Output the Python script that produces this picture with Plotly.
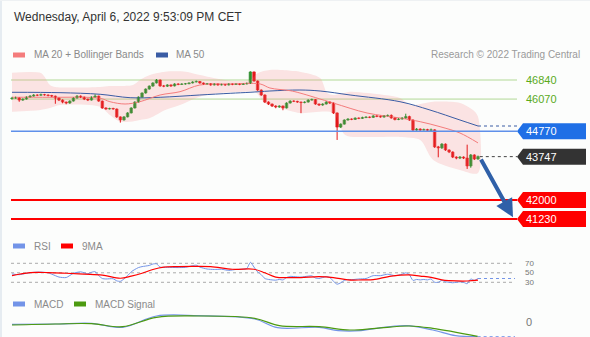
import plotly.graph_objects as go

W, H = 590, 337

# ---------------- hourly BTC candles (open = previous close) ----------------
first_open = 46090
close = [
    46110, 46120, 46030, 46070, 46150, 46190, 46235, 46225, 46250, 46235,
    46215, 46190, 46110, 46030, 45950, 45910, 45990, 46110, 46190, 46150,
    46070, 46030, 46150, 46190, 45990, 45710, 45670, 45690, 45670, 45350,
    45230, 45350, 45510, 45710, 45950, 46150, 46315, 46475, 46595, 46720,
    46840, 46600, 46590, 46640, 46600, 46680, 46660, 46680, 46690, 46720,
    46760, 46780, 46720, 46680, 46690, 46640, 46680, 46640, 46660, 46640,
    46680, 46660, 46680, 46660, 46680, 46700, 47165, 46800, 46435, 46235,
    45950, 45870, 45790, 45750, 45790, 45710, 45910, 45990, 45980, 45950,
    45930, 45950, 46030, 46050, 45870, 45830, 45870, 45950, 45910, 45510,
    44940, 45060, 45225, 45265, 45250, 45305, 45290, 45325, 45345, 45330,
    45390, 45370, 45345, 45390, 45410, 45305, 45245, 45265, 45305, 45365,
    45225, 44820, 44860, 44820, 44840, 44810, 44830, 44140, 44100, 44255,
    44015, 43935, 43730, 43690, 43730, 43690, 43370, 43815, 43650, 43747,
]
high = [
    46160, 46170, 46140, 46100, 46180, 46230, 46270, 46260, 46290, 46280,
    46260, 46240, 46210, 46130, 46060, 45970, 46020, 46140, 46230, 46220,
    46170, 46090, 46180, 46260, 46210, 46010, 45740, 45720, 45720, 45690,
    45370, 45380, 45540, 45740, 45980, 46180, 46340, 46500, 46620, 46750,
    46880, 46860, 46640, 46670, 46660, 46710, 46710, 46710, 46720, 46750,
    46790, 46820, 46800, 46740, 46720, 46710, 46710, 46700, 46690, 46680,
    46710, 46700, 46710, 46700, 46710, 46740, 47190, 47180, 46820, 46460,
    46260, 45980, 45890, 45820, 45820, 45810, 45940, 46020, 46020, 46000,
    45970, 45980, 46060, 46090, 46070, 45890, 45900, 45980, 45970, 45930,
    45530, 45090, 45250, 45300, 45290, 45330, 45330, 45360, 45380, 45370,
    45420, 45420, 45400, 45420, 45450, 45450, 45330, 45300, 45340, 45480,
    45400, 45250, 44900, 44890, 44880, 44870, 44880, 44850, 44180, 44290,
    44280, 44040, 43960, 43760, 43770, 43760, 44230, 43850, 43840, 43790,
]
low = [
    46050, 46080, 45960, 46000, 46050, 46130, 46170, 46190, 46200, 46210,
    46180, 46150, 45880, 45990, 45900, 45860, 45880, 45970, 46090, 46110,
    46030, 45990, 46010, 46130, 45960, 45680, 45640, 45650, 45640, 45310,
    45120, 45200, 45330, 45490, 45690, 45930, 46130, 46290, 46450, 46570,
    46700, 46570, 46550, 46560, 46560, 46580, 46630, 46640, 46650, 46670,
    46700, 46740, 46690, 46650, 46650, 46610, 46620, 46610, 46620, 46600,
    46620, 46630, 46640, 46630, 46640, 46660, 46680, 46770, 46400, 46200,
    45910, 45830, 45750, 45700, 45720, 45620, 45690, 45890, 45950, 45920,
    45500, 45900, 45930, 46010, 45840, 45790, 45800, 45850, 45870, 45470,
    44420, 44900, 45040, 45200, 45220, 45230, 45260, 45270, 45300, 45300,
    45310, 45340, 45320, 45320, 45370, 45280, 45210, 45220, 45240, 45280,
    45190, 44780, 44790, 44780, 44800, 44780, 44790, 44100, 43720, 44060,
    43980, 43890, 43690, 43640, 43650, 43650, 43250, 43300, 43610, 43620,
]
opens = [first_open] + close[:-1]
bars = list(range(len(close)))

# ---------------- overlays ----------------
bb_upper_idx = [0, 8, 9, 10.5, 12, 24.4, 27, 33.5, 35.4, 38.2, 42.4, 48, 52, 60.4, 65.9,
                68.1, 71.4, 77, 79.7, 85.3, 87.2, 89, 93.6, 98.3, 107.4, 110.2, 116.6,
                124, 127.6, 129]
bb_upper = [47135, 47122, 46973, 46638, 46557, 46557, 46598, 46638, 46840, 47042, 47175,
            47175, 47042, 46812, 46840, 47122, 47244, 47215, 47175, 46920, 46315, 46235,
            46368, 46315, 46114, 45831, 45964, 45912, 45629, 45360]
bb_lower_idx = [0, 7.8, 10.5, 13.3, 24.4, 27.1, 29.9, 32.7, 35.4, 38.2, 42.4, 46.5, 52,
                57.6, 64.5, 67.3, 70, 74.2, 79.7, 88.9, 92.2, 98.3, 107.4, 113, 116.6,
                124, 129]
bb_lower = [45561, 45629, 45710, 45831, 45762, 45427, 45157, 45157, 45226, 45306, 45629,
            45831, 46166, 46315, 46368, 46368, 45912, 45710, 45508, 45508, 44620, 44540,
            44540, 44418, 43611, 43208, 43087]

ma20_idx = [0, 10.5, 24.4, 27.1, 31.3, 35.4, 41, 46.5, 52, 60.4, 68.7, 71.4, 77, 79.7,
            88.9, 98.3, 107.4, 113, 118.5, 124, 129]
ma20 = [46142, 46142, 46101, 45964, 45871, 45964, 46235, 46368, 46638, 46679, 46679,
        46517, 46408, 46315, 45912, 45508, 45306, 45157, 44955, 44701, 44300]

ma50_idx = [0, 13.3, 24.4, 32.7, 41, 52, 60.4, 65.9, 71.4, 79.7, 85.3, 93.6, 107.4,
            115.7, 124, 129]
ma50 = [46344, 46328, 46263, 46126, 46142, 46235, 46303, 46344, 46396, 46436, 46396,
        46235, 45964, 45629, 45226, 44983]

# ---------------- key levels ----------------
resistances = [46840, 46070]
pivot = 44770
last_price = 43747
supports = [42000, 41230]
target = 41300

# ---------------- RSI ----------------
rsi_idx = [0, 2, 4, 6, 8, 10, 12, 13, 15, 17, 19, 21, 22, 23, 24, 25, 26, 28, 29, 30,
           31, 32, 33, 34, 35, 36, 38, 39, 40, 41, 43, 46, 48, 50, 51, 52, 54, 56, 58,
           60, 62, 64, 65, 66, 67, 68, 69, 70, 71, 72, 73, 74, 75, 76, 77, 78, 80, 82,
           83, 84, 85, 86, 87, 88, 89, 90, 91, 92, 93, 94, 96, 98, 100, 102, 104, 106,
           107, 108, 109, 110, 111, 112, 113, 114, 115, 116, 117, 118, 119, 120, 121,
           122, 123, 124, 125, 126, 127, 128, 129]
rsi = [47.5, 46, 49, 51, 51.5, 50, 44, 41, 40, 49, 52, 48, 51, 52.5, 44, 38, 37, 37.5,
       33, 32, 37, 44, 52, 57, 61, 63, 65.5, 68.5, 69, 62, 61.5, 61, 61.5, 65, 66, 62,
       58, 57, 57.5, 55, 57, 57.5, 59, 72, 62, 52, 46, 38, 36, 35, 34.5, 36, 35, 40,
       42.5, 42, 41, 43, 43.5, 39, 38, 40, 42, 40, 32, 26, 29, 34, 36, 35.5, 37, 38,
       44, 44, 47, 44, 45, 47, 50, 46, 34, 36, 35, 36, 35, 37, 30, 30, 34, 31, 30, 29,
       30, 31, 30, 27, 37, 34, 38]
rsi_ma_idx = [0, 5, 10, 15, 20, 25, 30, 33, 36, 39, 42, 46, 50, 55, 61, 67, 70, 73, 77,
              80, 85, 89, 93, 97, 100, 105, 110, 113, 116, 119, 121, 126, 129]
rsi_ma = [44, 50.3, 50.5, 49, 47, 45, 38.5, 43, 49, 57, 62, 63, 63.5, 63, 57.5, 57.5,
          50, 41, 40, 40, 42, 40, 35, 35, 35.5, 43, 45.5, 43, 40.5, 35, 33.5, 32.7, 34.5]
rsi_levels = [70, 50, 30]

# ---------------- MACD ----------------
macd_idx = [0, 12, 22, 30.6, 40, 51.5, 67.2, 73.5, 85, 90.3, 96.6, 100.8, 109.2, 116.5,
            122.8, 128.9]
macd = [-58, -50, -33, -133, 150, 158, 75, -142, -133, -217, -217, -158, -92, -200,
        -342, -367]
signal_idx = [0, 12, 22, 30.6, 40, 51.5, 67.2, 74, 85, 93.5, 100.8, 110, 116.5, 128.9]
signal = [-75, -50, -42, -117, 117, 150, 92, -92, -117, -200, -158, -100, -158, -358]

# ---------------- colours ----------------
GREEN_C = "#2f8f2f"
RED_C = "#e3191b"
MA20_C = "#f47c7c"
MA50_C = "#3a5ca4"
LEVEL_G = "#b2d996"
LEVEL_G_TXT = "#5aaa1c"
PIVOT_LINE = "#5f90ea"
PIVOT_TAG = "#1f6fe6"
LAST_TAG = "#333333"
SUPPORT_C = "#ff0000"
ARROW_C = "#2f60a8"
RSI_C = "#7394e8"
MACD_SIG_C = "#4c9a10"
GRAY = "#8a8a8a"

BG = "#fcfdfc"
FONT = "Liberation Sans, Arial, sans-serif"

# bar index <-> pixel mapping (shared x axis for all panes)
X0_PX, STEP_PX = 12.0, (478.0 - 12.0) / (len(close) - 1)


def bx(px):
    return (px - X0_PX) / STEP_PX


def fx(px):
    return px / W


def fy(py):
    return 1 - py / H


x_range = [bx(0), bx(W)]
line_start, line_end = bx(11), bx(517)
last_i = bars[-1]

fig = go.Figure()

# Bollinger envelope
fig.add_trace(go.Scatter(
    x=bb_upper_idx + bb_lower_idx[::-1], y=bb_upper + bb_lower[::-1],
    fill="toself", fillcolor="rgba(248,150,150,0.25)", mode="lines",
    line=dict(width=0, shape="spline", smoothing=0.8), hoverinfo="skip"))
fig.add_trace(go.Scatter(x=ma50_idx, y=ma50, mode="lines",
                         line=dict(color=MA50_C, width=1, shape="spline"), hoverinfo="skip"))
fig.add_trace(go.Scatter(x=ma20_idx, y=ma20, mode="lines",
                         line=dict(color=MA20_C, width=1, shape="spline"), hoverinfo="skip"))

# candles: wicks as line segments, bodies as floating bars
is_up = [c >= o for o, c in zip(opens, close)]
for up_flag, col in ((True, GREEN_C), (False, RED_C)):
    wx, wy = [], []
    for i in bars:
        if is_up[i] == up_flag:
            wx += [i, i, None]
            wy += [low[i], high[i], None]
    fig.add_trace(go.Scatter(x=wx, y=wy, mode="lines", line=dict(color=col, width=1),
                             hoverinfo="skip"))
body_colors = [GREEN_C if u else RED_C for u in is_up]
fig.add_trace(go.Bar(
    x=bars, y=[abs(c - o) for o, c in zip(opens, close)],
    base=[min(o, c) for o, c in zip(opens, close)], width=0.72,
    marker=dict(color=body_colors, line=dict(color=body_colors, width=0.6)),
    hoverinfo="skip"))

# dotted extensions to the tags
fig.add_trace(go.Scatter(x=[ma50_idx[-1], line_end], y=[ma50[-1], ma50[-1]], mode="lines",
                         line=dict(color=MA50_C, width=1, dash="dot"), hoverinfo="skip"))
fig.add_trace(go.Scatter(x=[last_i + 0.5, line_end], y=[last_price, last_price], mode="lines",
                         line=dict(color="#444444", width=1, dash="dot"), hoverinfo="skip"))

# RSI pane
fig.add_trace(go.Scatter(x=rsi_idx, y=rsi, mode="lines", yaxis="y2",
                         line=dict(color=RSI_C, width=1, shape="spline", smoothing=0.6),
                         hoverinfo="skip"))
fig.add_trace(go.Scatter(x=rsi_ma_idx, y=rsi_ma, mode="lines", yaxis="y2",
                         line=dict(color=SUPPORT_C, width=1.2, shape="spline"),
                         hoverinfo="skip"))
fig.add_trace(go.Scatter(x=[rsi_idx[-1], bx(515)], y=[rsi[-1], rsi[-1]], mode="lines",
                         yaxis="y2", line=dict(color=RSI_C, width=1, dash="dot"),
                         hoverinfo="skip"))

# MACD pane
fig.add_trace(go.Scatter(x=macd_idx, y=macd, mode="lines", yaxis="y3",
                         line=dict(color=RSI_C, width=1.2, shape="spline"), hoverinfo="skip"))
fig.add_trace(go.Scatter(x=signal_idx, y=signal, mode="lines", yaxis="y3",
                         line=dict(color=MACD_SIG_C, width=1.2, shape="spline"),
                         hoverinfo="skip"))
fig.add_trace(go.Scatter(x=[macd_idx[-1], bx(515)], y=[macd[-1], macd[-1]], mode="lines",
                         yaxis="y3", line=dict(color=RSI_C, width=1, dash="dot"),
                         hoverinfo="skip"))

shapes = []
annotations = []

# page edges
shapes.append(dict(type="rect", xref="paper", yref="paper", x0=0, x1=fx(2), y0=0, y1=1,
                   fillcolor="#e6ecf1", line=dict(width=0), layer="below"))
shapes.append(dict(type="rect", xref="paper", yref="paper", x0=0, x1=1, y0=fy(1), y1=1,
                   fillcolor="#eef1f3", line=dict(width=0), layer="below"))

# horizontal levels
for lv in resistances:
    shapes.append(dict(type="line", xref="x", yref="y", x0=line_start, x1=line_end,
                       y0=lv, y1=lv, line=dict(color=LEVEL_G, width=1), layer="below"))
    annotations.append(dict(xref="paper", yref="y", x=fx(524), y=lv, xanchor="left",
                            yanchor="middle", text=str(lv), showarrow=False,
                            font=dict(color=LEVEL_G_TXT, size=11, family=FONT)))
shapes.append(dict(type="line", xref="x", yref="y", x0=line_start, x1=line_end,
                   y0=pivot, y1=pivot, line=dict(color=PIVOT_LINE, width=1.5)))
for lv in supports:
    shapes.append(dict(type="line", xref="x", yref="y", x0=line_start, x1=line_end,
                       y0=lv, y1=lv, line=dict(color=SUPPORT_C, width=2)))


def tag(level, color):
    shapes.append(dict(type="path", xref="paper", xsizemode="pixel", xanchor=0,
                       yref="y", ysizemode="pixel", yanchor=level,
                       path="M517,0 L523,8 L586,8 L586,-8 L523,-8 Z",
                       fillcolor=color, line=dict(width=0)))
    annotations.append(dict(xref="paper", yref="y", x=fx(524), y=level, xanchor="left",
                            yanchor="middle", text=str(level), showarrow=False,
                            font=dict(color="white", size=11, family=FONT)))


tag(pivot, PIVOT_TAG)
tag(last_price, LAST_TAG)
for lv in supports:
    tag(lv, SUPPORT_C)

# projected move
annotations.append(dict(xref="x", yref="y", axref="x", ayref="y",
                        x=bx(513), y=target, ax=last_i + 0.6, ay=43690,
                        text="", showarrow=True, arrowhead=2, arrowsize=0.9,
                        arrowwidth=4, arrowcolor=ARROW_C, standoff=0))

# RSI reference lines
for lv in rsi_levels:
    shapes.append(dict(type="line", xref="x", yref="y2", x0=bx(11), x1=bx(515),
                       y0=lv, y1=lv, line=dict(color="#aaaaaa", width=1, dash="dot"),
                       layer="below"))
    annotations.append(dict(xref="paper", yref="y2", x=fx(524), y=lv, xanchor="left",
                            yanchor="middle", text=str(lv), showarrow=False, borderpad=0,
                            font=dict(color="#777777", size=8, family=FONT)))
annotations.append(dict(xref="paper", yref="y3", x=fx(524), y=0, xanchor="left",
                        yanchor="middle", text="0", showarrow=False,
                        font=dict(color="#777777", size=11, family=FONT)))

# titles and legends
annotations.append(dict(xref="paper", yref="paper", x=fx(12), y=fy(17), xanchor="left",
                        yanchor="middle", text="Wednesday, April 6, 2022 9:53:09 PM CET",
                        showarrow=False, font=dict(color="#333333", size=12, family=FONT)))
annotations.append(dict(xref="paper", yref="paper", x=fx(582), y=fy(55), xanchor="right",
                        yanchor="middle", text="Research © 2022 Trading Central",
                        showarrow=False, font=dict(color="#9a9a9a", size=10, family=FONT)))


def legend_item(x_sw, x_txt, y, color, label):
    shapes.append(dict(type="rect", xref="paper", yref="paper", x0=fx(x_sw),
                       x1=fx(x_sw + 12), y0=fy(y + 2.5), y1=fy(y - 2.5),
                       fillcolor=color, line=dict(width=0)))
    annotations.append(dict(xref="paper", yref="paper", x=fx(x_txt), y=fy(y),
                            xanchor="left", yanchor="middle", text=label, showarrow=False,
                            font=dict(color=GRAY, size=10, family=FONT)))


legend_item(13, 32, 55, MA20_C, "MA 20 + Bollinger Bands")
legend_item(156, 174, 55, MA50_C, "MA 50")
legend_item(13, 32, 246, RSI_C, "RSI")
legend_item(61, 80, 246, SUPPORT_C, "9MA")
legend_item(13, 32, 304, RSI_C, "MACD")
legend_item(74, 93, 304, MACD_SIG_C, "MACD Signal")

fig.update_layout(
    width=W, height=H, margin=dict(l=0, r=0, t=0, b=0),
    paper_bgcolor=BG, plot_bgcolor="rgba(0,0,0,0)", showlegend=False,
    xaxis=dict(range=x_range, visible=False, domain=[0, 1], fixedrange=True),
    yaxis=dict(range=[40786, 47647], domain=[fy(230), fy(60)], visible=False),
    yaxis2=dict(range=[13.79, 87.47], domain=[fy(290), fy(255)], visible=False,
                anchor="x"),
    yaxis3=dict(range=[-375, 300], domain=[0, fy(310)], visible=False, anchor="x"),
    shapes=shapes, annotations=annotations,
    font=dict(family=FONT),
)

fig.write_html("out.html")
